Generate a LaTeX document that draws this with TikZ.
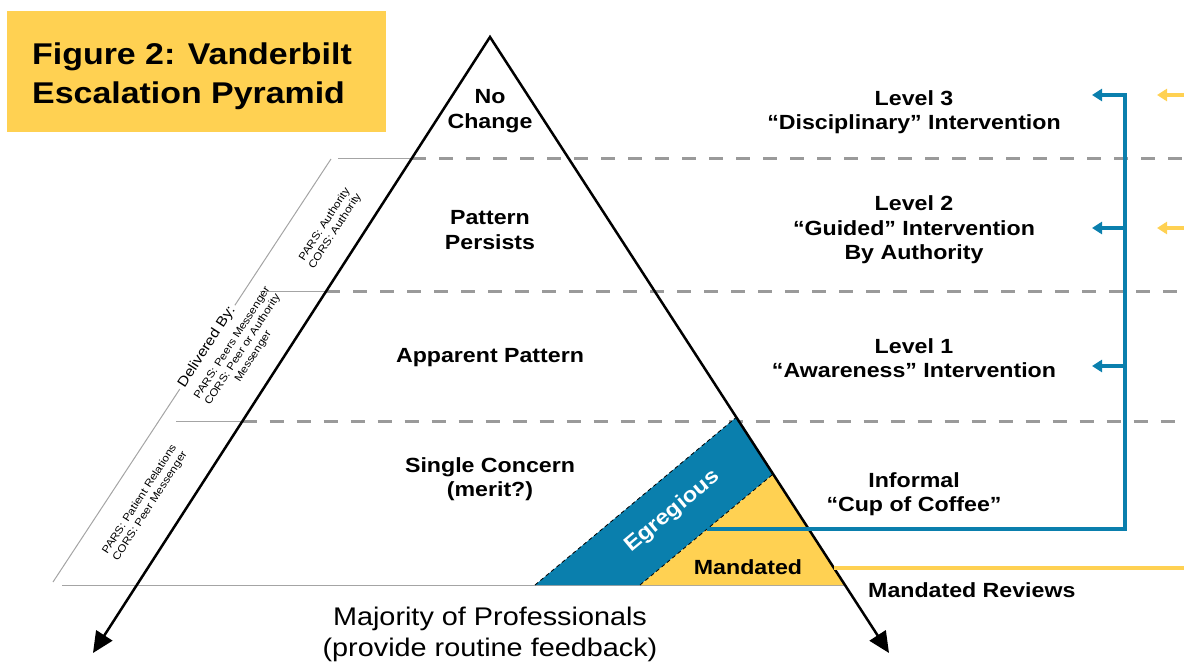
\documentclass[tikz,border=0pt]{standalone}
\usepackage{fontspec}
\setmainfont[FakeStretch=1.13]{Liberation Sans}
\usetikzlibrary{arrows.meta}
\definecolor{vyellow}{HTML}{FFD152}
\definecolor{vblue}{HTML}{0A7FAD}
\definecolor{dashgray}{HTML}{9A9A9A}
\definecolor{rulegray}{HTML}{A4A4A4}
\begin{document}
\begin{tikzpicture}[x=1pt,y=-1pt,
  lbl/.style={font=\bfseries\fontsize{20.5}{24.5}\selectfont, align=center, inner sep=0pt},
  rotlbl/.style={font=\fontsize{10.5}{12.5}\selectfont, align=center, rotate=57.2, inner sep=1pt},
  gdash/.style={draw=dashgray, line width=3pt, dash pattern=on 14pt off 13pt},
  hair/.style={draw=rulegray, line width=1pt},
  bluew/.style={draw=vblue, line width=4pt},
  yelw/.style={draw=vyellow, line width=4pt},
  bluearr/.style={bluew, -{Triangle[length=10pt,width=12pt]}},
  yelarr/.style={yelw, -{Triangle[length=10pt,width=12pt]}},
  edge/.style={draw=black, line width=0.8pt, dash pattern=on 4pt off 3pt}
]
\useasboundingbox (0,0) rectangle (1184,669);

% title block
\fill[vyellow] (7,11) rectangle (386,132);
\node[anchor=base west, font=\bfseries\fontsize{30}{36}\selectfont, inner sep=0pt] (title1) at (32,65) {Figure 2: Vanderbilt};
\node[anchor=base west, font=\bfseries\fontsize{30}{36}\selectfont, inner sep=0pt] (title2) at (32,103) {Escalation Pyramid};

% key points of the pyramid
\coordinate (apex) at (490,37);
\coordinate (ltip) at (93,653);
\coordinate (rtip) at (889,653);
\coordinate (b1) at (535,585);
\coordinate (b2) at (640,585);
\coordinate (e1) at (736.3,417.3);
\coordinate (e2) at (773.1,474.1);
\coordinate (b3) at (844.9,585);

% level separators
\draw[gdash] (412,158) -- (1184,158);
\draw[gdash] (326.3,291) -- (1184,291);
\draw[gdash] (242.5,421) -- (1184,421);

% delivery bracket
\draw[hair] (338,158) -- (412,158);
\draw[hair] (260,291) -- (326.3,291);
\draw[hair] (176,421) -- (242.5,421);
\draw[hair] (62,585) -- (845,585);
\draw[hair] (331,159) -- (53,582);

% egregious band and mandated corner
\fill[vblue] (b1) -- (e1) -- (e2) -- (b2) -- cycle;
\fill[vyellow] (b2) -- (e2) -- (b3) -- cycle;
\draw[edge] (b1) -- (e1);
\draw[edge] (b2) -- (e2);

% pyramid sides
\draw[line width=2.5pt, line join=miter, {Triangle[length=21pt,width=19pt]}-{Triangle[length=21pt,width=19pt]}] (ltip) -- (apex) -- (rtip);

% feedback connectors
\coordinate (egr) at (707.2,529);
\coordinate (bus) at (1125,529);
\coordinate (bustop) at (1125,95);
\coordinate (t3) at (1092,95);
\coordinate (t2) at (1092,228);
\coordinate (t1) at (1092,366);
\coordinate (j2) at (1125,228);
\coordinate (j1) at (1125,366);
\draw[bluew, line join=miter] (egr) -- (bus) -- (bustop) -- ++(-1,0);
\draw[bluearr] (bustop) -- (t3);
\draw[bluearr] (j2) -- (t2);
\draw[bluearr] (j1) -- (t1);

\coordinate (y3s) at (1184,95);
\coordinate (y3t) at (1157,95);
\coordinate (y2s) at (1184,228);
\coordinate (y2t) at (1157,228);
\coordinate (ms) at (833.9,568);
\coordinate (me) at (1184,568);
\draw[yelarr] (y3s) -- (y3t);
\draw[yelarr] (y2s) -- (y2t);
\draw[yelw] (ms) -- (me);

% pyramid labels
\node[lbl] (nochange) at (490,111) {No\\Change};
\node[lbl] (persists) at (490,230) {Pattern\\Persists};
\node[lbl] (apparent) at (490,358) {Apparent Pattern};
\node[lbl] (single) at (490,479) {Single Concern\\(merit?)};
\node[lbl, text=white, rotate=39.8, font=\bfseries\fontsize{21}{24}\selectfont] (egregious) at (672.5,511.5) {Egregious};
\node[lbl] (mandated) at (748,567) {Mandated};

% intervention labels
\node[lbl] (lv3) at (914,112) {Level 3\\“Disciplinary” Intervention};
\node[lbl] (lv2) at (914,230) {Level 2\\“Guided” Intervention\\By Authority};
\node[lbl] (lv1) at (914,358) {Level 1\\“Awareness” Intervention};
\node[lbl] (informal) at (914,494) {Informal\\“Cup of Coffee”};
\node[lbl, anchor=west] (reviews) at (868,590) {Mandated Reviews};

% base caption
\node[font=\fontsize{25.5}{31}\selectfont, align=center, inner sep=0pt] (majority) at (490,634) {Majority of Professionals\\(provide routine feedback)};

% delivery notes
\node[rotlbl, fill=white, font=\fontsize{14}{16}\selectfont, inner sep=3pt] (delivered) at (207,347) {Delivered By:};
\node[rotlbl] (auth) at (330,228) {PARS: Authority\\CORS: Authority};
\node[rotlbl] (peers) at (243,350) {PARS: Peers Messenger\\CORS: Peer or Authority\\Messenger};
\node[rotlbl] (patient) at (145,503) {PARS: Patient Relations\\CORS: Peer Messenger};
\end{tikzpicture}
\end{document}
